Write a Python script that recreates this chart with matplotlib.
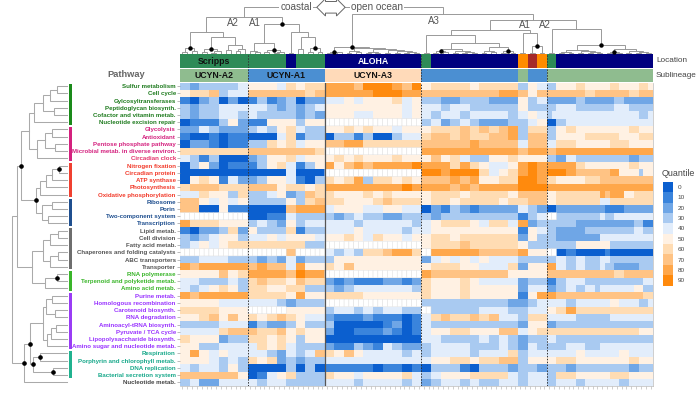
#!/usr/bin/env python3
# Pathway quantile heatmap of UCYN-A samples with row/column dendrograms

import numpy as np
import matplotlib
matplotlib.use('Agg')
import matplotlib.pyplot as plt
from matplotlib.colors import ListedColormap

plt.rcParams['font.family'] = ['Liberation Sans', 'DejaVu Sans']

#------------------------------------------------------------------------------
# DATA
#------------------------------------------------------------------------------

pathways = [
    'Sulfur metabolism', 'Cell cycle', 'Gylcosyltransferases', 'Peptidoglycan biosynth.',
    'Cofactor and vitamin metab.', 'Nucleotide excision repair',
    'Glycolysis', 'Antioxidant', 'Pentose phosphate pathway',
    'Microbial metab. in diverse environ.', 'Circadian clock',
    'Nitrogen fixation', 'Circadian protein', 'ATP synthase', 'Photosynthesis',
    'Oxidative phosphorylation',
    'Ribosome', 'Porin', 'Two-component system', 'Transcription',
    'Lipid metab.', 'Cell division', 'Fatty acid metab.',
    'Chaperones and folding catalysts', 'ABC transporters', 'Transporter',
    'RNA polymerase', 'Terpenoid and polyketide metab.', 'Amino acid metab.',
    'Purine metab.', 'Homologous recombination', 'Carotenoid biosynth.',
    'RNA degradation', 'Aminoacyl-tRNA biosynth.', 'Pyruvate / TCA cycle',
    'Lipopolysaccharide biosynth.', 'Amino sugar and nucleotide metab.',
    'Respiration', 'Porphyrin and chlorophyll metab.', 'DNA replication',
    'Bacterial secretion system', 'Nucleotide metab.']

pathway_group = [0]*6 + [1]*5 + [2]*5 + [3]*4 + [4]*6 + [5]*3 + [6]*8 + [7]*4 + [8]
group_text_colors = ['#1e7b1e', '#d4217e', '#f23a2a', '#1f4f8f', '#555555',
                     '#3ab52a', '#9933ff', '#17a88a', '#444444']
group_bar_colors = ['#1a8a1a', '#d4217e', '#f04030', '#1f4f8f', '#6e6e6e',
                    '#3ab52a', '#9a3cf5', '#20b28f', None]

# quantile bin (0..9 -> 0..90), '-' = no data; groups: A2 | A1 | A3 | open A1 | open A2
quantile_rows = [
 '33223333333344 5555554466556666 88888877999999887799 55666666665566666666335544 3355556655555665555665',
 '55666677334444 7777777777776677 88888888889999998888 77777777777777778888775577 7777777766777777766777',
 '11002233002200 1133112233002222 44445544555555664455 33332222333333222222553344 2222223322222233222222',
 '33223333444444 4444332233223344 55555555555555554455 44443344443333333333553333 3344443333333344433333',
 '33223333444433 4433333333223322 55555544445555554455 44334444334444444433445544 3444444444444444444334',
 '00111111335522 1111555555335555 -------------------- 33442233443322222233334455 0033444444444444444444',
 '22224433222222 3344335566443333 55556655665555445555 55666666776677667788336666 3355665555555555566555',
 '11000011001111 0000004466113333 00333311330000334444 66777766776666777788337777 3355555566666665555666',
 '00222211001111 3333665566445555 77778888666666666666 77777777778877777777447777 4466665555555666655555',
 '66666666666666 7777777777777766 -------------------- 88888888888888888888778888 7788888888888888888888',
 '44331133000000 2233555566445555 55665566555555665555 55775566443333555566555555 3322443333333333322333',
 '00335522001111 1133556644113355 88557788778888888899 88888866886655444455889988 8888886655555555566555',
 '00000000000000 0000000044000000 -------------------- 99998899999966445566889988 9999887777777885555355',
 '00556655114422 2233555544110033 66556688336666556655 77777788778855556666999988 6655555566677777777777',
 '66777777666666 7777775566665566 88888888888888889988 88888877887788888888999999 8888888888888888888888',
 '44446655553366 3333445522337766 66555555665566555555 55666666556666666655777777 5566666666687888556666',
 '77775544554455 3333333355336677 66665555556677666666 55666655666666665566667777 5566666666644666666666',
 '77770000551111 0000000077888888 44555555444455554444 00221133221122222222443322 0022222222221111222222',
 '-------------- 0000111144333333 33223344333322223333 33223333333333333333113344 --33333333343344444444',
 '88666666555555 3344332255334444 44444433444444444433 44556666665544666644882233 3333332222222222223311',
 '11002222336622 5533333366113333 44444455444444443344 44555555555555555555115544 3322222233333333334433',
 '33223344555533 4444554455555544 55556655446655554455 55666655666666666666225533 3322222222244444444444',
 '33445544556666 6666666666663333 -------------------- 55666666776666666666553333 3333335555555333333333',
 '-------------- --------77------ 44334433666677888866 --888888888877777777885555 --00110000001000000000',
 '33334444443333 3322332244223333 33555555555555555555 22445544554455444444333333 3344334433344333333333',
 '88778888888888 7788777744885555 66557755555555555555 55666666555544444466225555 8844334433343322222333',
 '55555555775566 8888888877998888 -------------------- 88777777777777777755555555 7777777777777766777777',
 '44443333334433 6677666655776666 22112211111122221122 66555555665544444444223333 1133444433333333333344',
 '44334455665533 6666555566663333 33223344444444444433 66555555665555555555224444 2233443344344444445533',
 '88778888888888 6666666655885555 66666666555555555555 66555555665555555555115588 8877777777777777777766',
 '55555555444444 4444443322333333 -------------------- 33333333333333333322223344 4444334444444554444334',
 '66666666555555 --------55555555 33444433443344443333 --333333333344444433334444 5566886666666666666666',
 '55556677557755 6655667766554444 22111111221111110011 44667766667766774444336666 4444443333333444444444',
 '33333333444444 1133222233553333 33000000000011220011 44333333333333333333225555 2233333333333333333333',
 '44444444667777 7766667755665555 22000011111122110011 44555566665555557777445566 6666666666666666666555',
 '66555555223333 6666556655335555 00000000000000000000 44443333333344334433223333 4433333333333333333333',
 '55553333444444 4466556644333333 22111133221144332222 33444444443333334433224433 3333444433344444444444',
 '55885544554444 4444332244334477 66557755444444443344 33444444443344444466334444 4444445544444445544444',
 '55555544334433 6655662233223333 44444444444444444444 44555566665566667777335555 5566665555555555566555',
 '44334444335533 0000000033003300 11111111110011110011 00333333110033333322333322 3333223333333333322333',
 '77777777777755 0011445566333333 66555544555555556644 33445555556666666644334444 3366665555555666655555',
 '33442222444444 4433444433333333 44444433444444443344 22334444334433334444334444 3344443344444443344444',
]

quantile_labels = ['0', '10', '20', '30', '40', '50', '60', '70', '80', '90']
quantile_colors = ['#0b5fcf', '#3a84dc', '#6fa6e6', '#a9caf1', '#e2edfb',
                   '#fff1e3', '#ffdcb3', '#ffc384', '#ffa74a', '#ff8a0d']

location_colors = {'S': '#2e8b57', 'A': '#00007f', 'O': '#ff8c00', 'B': '#a52a2a'}
location_runs = [('S', 22), ('A', 2), ('S', 6), ('A', 20), ('S', 2), ('A', 18),
                 ('O', 2), ('B', 2), ('O', 2), ('S', 2), ('A', 20)]
sublineage_colors = {'A2': '#8fbc8f', 'A1': '#4b8fd2', 'A3': '#ffdab9'}
sublineage_runs = [('A2', 14), ('A1', 16), ('A3', 20), ('A1', 20), ('A2', 2),
                   ('A1', 4), ('A2', 22)]

# dendrograms: (height, left, right[, dot]); leaves are row / column indices
row_tree = (55,
    (50,
        (46,
            (38,
                (33, (24, (17, (10, 0, 1), 2), (13, 3, 4)), 5),
                (30, (22, (15, 6, 7), (12, 8, 9)), 10)),
            (31,
                (27, (21, (15, (8, 11, 12, 1), 13), 14), 15),
                (25, (15, 16, 17), (19, 18, 19)), 1), 1),
        (35,
            (24, (17, (9, 20, 21), 22), (17, (9, 23, 24), 25)),
            (22, (10, 26, 27, 1), 28))),
    (43,
        (37,
            (24, (21, (15, 29, 30), (12, 31, 32)), (20, (16, (11, 33, 34), 35), 36)),
            (34, (27, 37, 38, 1), (14, 39, 40, 1), 1), 1),
        41, 1))

col_tree = (47,
    (37,
        (22,
            (6, (2.5, 0, 1), (3.5, 2, 3), 1),
            (17,
                (5, (2, 4, 5), (3, (1.5, 6, 7), 8), 1),
                (9, (4, 9, 10), (5, (3, 11, 12), 13)))),
        (30,
            (11, (3.5, 14, (2, 15, 16)), (4, (2, 17, 18), (2.5, (1.5, 19, 20), 21), 1)),
            (22, (1.5, 22, 23), (17, (5, 24, 25), (6, (2, 26, 27), (2.5, 28, 29), 1))), 1)),
    (40,
        (7,
            (2.5, (1.5, 30, 31), (2, 32, 33), 1),
            (6, (3, (1, 34, 35), (2, 36, 37)),
                (5, (2.5, (1, 38, 39), (1.5, 40, 41)),
                    (4, (1.5, 42, 43), (3, (1, 44, 45), (2, (1, 46, 47), (1, 48, 49)))))), 1),
        (34,
            (24,
                (19, (1.5, 50, 51),
                    (11,
                        (5, (3, (1, 52, 53), (2, 54, 55), 1),
                            (3.5, (1.5, 56, 57), (2, (1, 58, 59), (1, 60, 61)))),
                        (7, (3, (1, 62, 63), (2, 64, 65)), (3, (1, 66, 67), (1.5, 68, 69), 1)))),
                (21, (1, 70, 71), (8, (1.5, 72, 73), (1.5, 74, 75), 1))),
            (25, (1.5, 76, 77),
                (9,
                    (4, (2.5, (1, 78, 79), (1.5, 80, 81)), (3, (1, 82, 83), (2, (1, 84, 85), (1, 86, 87)))),
                    (5, (2, (1, 88, 89), (1, 90, 91), 1), (3, (1.5, 92, 93), (2, (1, 94, 95), (1, 96, 97)))),
                    1)))))

#------------------------------------------------------------------------------
# SETUP
#------------------------------------------------------------------------------

W, H = 700, 395
ncol = 98
nrow = len(pathways)

rows = []
for r in quantile_rows:
    s = r.replace(' ', '')
    if len(s) != ncol:
        print('row length', len(s), r[:20])
        s = (s + s[-1]*ncol)[:ncol]
    rows.append([np.nan if c == '-' else float(c) for c in s])
vals = np.ma.masked_invalid(np.array(rows))

cmap = ListedColormap(quantile_colors)
cmap.set_bad('white')

fig = plt.figure(figsize=(W/100, H/100), dpi=100)

def px_axes(x0, y0, x1, y1):
    return fig.add_axes([x0/W, 1 - y1/H, (x1 - x0)/W, (y1 - y0)/H])

def ftext(x, y, s, **kw):
    return fig.text(x/W, 1 - y/H, s, **kw)

def draw_top(ax, t):
    if isinstance(t, int):
        return t + 0.5, 0.0
    h, a, b = t[:3]
    xa, ha = draw_top(ax, a)
    xb, hb = draw_top(ax, b)
    ax.plot([xa, xa, xb, xb], [ha, h, h, hb], color='#999999', lw=0.7,
            solid_joinstyle='miter')
    x = (xa + xb) / 2
    if len(t) > 3:
        ax.plot(x, h, 'o', ms=2.2, color='black', zorder=5)
    return x, h

def draw_left(ax, t):
    if isinstance(t, int):
        return t + 0.5, 0.0
    h, a, b = t[:3]
    ya, ha = draw_left(ax, a)
    yb, hb = draw_left(ax, b)
    ax.plot([ha, h, h, hb], [ya, ya, yb, yb], color='#aaaaaa', lw=0.75,
            solid_joinstyle='miter')
    y = (ya + yb) / 2
    if len(t) > 3:
        ax.plot(h, y, 'o', ms=2.3, color='black', zorder=5)
    return y, h

#------------------------------------------------------------------------------
# HEATMAP
#------------------------------------------------------------------------------

ax = px_axes(180, 82.5, 653, 386)
ax.pcolormesh(np.arange(ncol + 1), np.arange(nrow + 1), vals, cmap=cmap,
              vmin=-0.5, vmax=9.5, antialiased=False)
# empty cells: white with faint outlines (pcolor skips masked cells)
missing = np.ma.masked_invalid(np.where(vals.mask, 1.0, np.nan))
ax.pcolor(np.arange(ncol + 1), np.arange(nrow + 1), missing,
          cmap=ListedColormap(['white']), edgecolors='#dddddd', linewidth=0.3)
ax.set_xlim(0, ncol)
ax.set_ylim(nrow, 0)
for xb in [14, 50, 76]:
    ax.axvline(xb, color='#333333', lw=0.7, ls=(0, (1.5, 1.5)))
ax.axvline(30, color='#555555', lw=0.9)

ax.set_yticks(np.arange(nrow) + 0.5)
ax.set_yticklabels(pathways, fontsize=4.4, fontweight='bold')
for lab, g in zip(ax.get_yticklabels(), pathway_group):
    lab.set_color(group_text_colors[g])
ax.get_yticklabels()[10].set_color('#e5316b')
ax.tick_params(axis='y', length=2, width=0.4, color='#888888', pad=1)
ax.set_xticks(np.arange(ncol) + 0.5)
ax.set_xticklabels([])
ax.tick_params(axis='x', length=1.8, width=0.4, color='#aaaaaa')
for sp in ax.spines.values():
    sp.set_color('#bbbbbb')
    sp.set_linewidth(0.5)
ax.spines['top'].set_visible(False)
ax.spines['left'].set_visible(False)

#------------------------------------------------------------------------------
# LOCATION / SUBLINEAGE BARS
#------------------------------------------------------------------------------

for (y0, y1, colors, runs) in [(54, 67.8, location_colors, location_runs),
                               (68.5, 81.8, sublineage_colors, sublineage_runs)]:
    axb = px_axes(180, y0, 653, y1)
    keys = list(colors)
    idx = []
    for k, n in runs:
        idx += [keys.index(k)] * n
    axb.pcolormesh(np.arange(ncol + 1), [0, 1], np.array([idx]),
                   cmap=ListedColormap([colors[k] for k in keys]),
                   vmin=-0.5, vmax=len(keys) - 0.5, antialiased=False)
    axb.set_xlim(0, ncol)
    axb.set_ylim(0, 1)
    for xb in [14, 50, 76]:
        axb.axvline(xb, color='#333333', lw=0.7, ls=(0, (1.5, 1.5)))
    axb.axis('off')
    if colors is location_colors:
        axb.text(7, 0.48, 'Scripps', ha='center', va='center', fontsize=6.3,
                 fontweight='bold', color='#111111')
        axb.text(40, 0.48, 'ALOHA', ha='center', va='center', fontsize=6.3,
                 fontweight='bold', color='white')
    else:
        for xc, s in [(7, 'UCYN-A2'), (22, 'UCYN-A1'), (40, 'UCYN-A3')]:
            axb.text(xc, 0.48, s, ha='center', va='center', fontsize=6.3,
                     fontweight='bold', color='#111111')

ftext(656, 61, 'Location', ha='left', va='center', fontsize=5.9, color='#444444')
ftext(656, 75.5, 'Sublineage', ha='left', va='center', fontsize=5.9, color='#444444')

#------------------------------------------------------------------------------
# DENDROGRAMS
#------------------------------------------------------------------------------

axt = px_axes(180, 0, 653, 54)
draw_top(axt, col_tree)
axt.set_xlim(0, ncol)
axt.set_ylim(0, 54)
axt.axis('off')

axl = px_axes(5, 82.5, 73, 386)
draw_left(axl, row_tree)
for g, c in enumerate(group_bar_colors):
    if c is None:
        continue
    members = [i for i, gg in enumerate(pathway_group) if gg == g]
    axl.add_patch(plt.Rectangle((-2.3, members[0] + 0.15), -2.7,
                                len(members) - 0.3, color=c, lw=0))
axl.set_xlim(62, -6)
axl.set_ylim(nrow, 0)
axl.axis('off')

txt = dict(color='#555555', fontsize=7)
ftext(233, 23.5, 'A2', ha='center', va='center', **txt)
ftext(255, 23.5, 'A1', ha='center', va='center', **txt)
ftext(434, 20.5, 'A3', ha='center', va='center', **txt)
ftext(525, 25, 'A1', ha='center', va='center', **txt)
ftext(545, 25, 'A2', ha='center', va='center', **txt)

ftext(312, 7, 'coastal', ha='right', va='center', fontsize=7.2, color='#555555',
      bbox=dict(fc='white', ec='none', pad=0.8))
ftext(331, 7.3, 'xxxx', ha='center', va='center', fontsize=5.5, color='white',
      bbox=dict(boxstyle='darrow,pad=0.3', fc='white', ec='#666666', lw=0.7))
ftext(351, 7, 'open ocean', ha='left', va='center', fontsize=7.2, color='#555555',
      bbox=dict(fc='white', ec='none', pad=0.8))

ftext(126, 74.5, 'Pathway', ha='center', va='center', fontsize=6.7,
      fontweight='bold', color='#666666')

#------------------------------------------------------------------------------
# LEGEND
#------------------------------------------------------------------------------

axc = px_axes(663.3, 181.7, 673.3, 285.7)
axc.pcolormesh([0, 1], np.arange(11), np.arange(10).reshape(10, 1), cmap=cmap,
               vmin=-0.5, vmax=9.5)
axc.set_ylim(10, 0)
axc.set_xticks([])
axc.yaxis.tick_right()
axc.set_yticks(np.arange(10) + 0.5)
axc.set_yticklabels(quantile_labels, fontsize=4.6, color='#444444')
axc.tick_params(axis='y', length=0, pad=3)
for sp in axc.spines.values():
    sp.set_visible(False)
ftext(678, 174, 'Quantile', ha='center', va='center', fontsize=6.4, color='#444444')

plt.savefig('out.png', dpi=100)
print('** END')
